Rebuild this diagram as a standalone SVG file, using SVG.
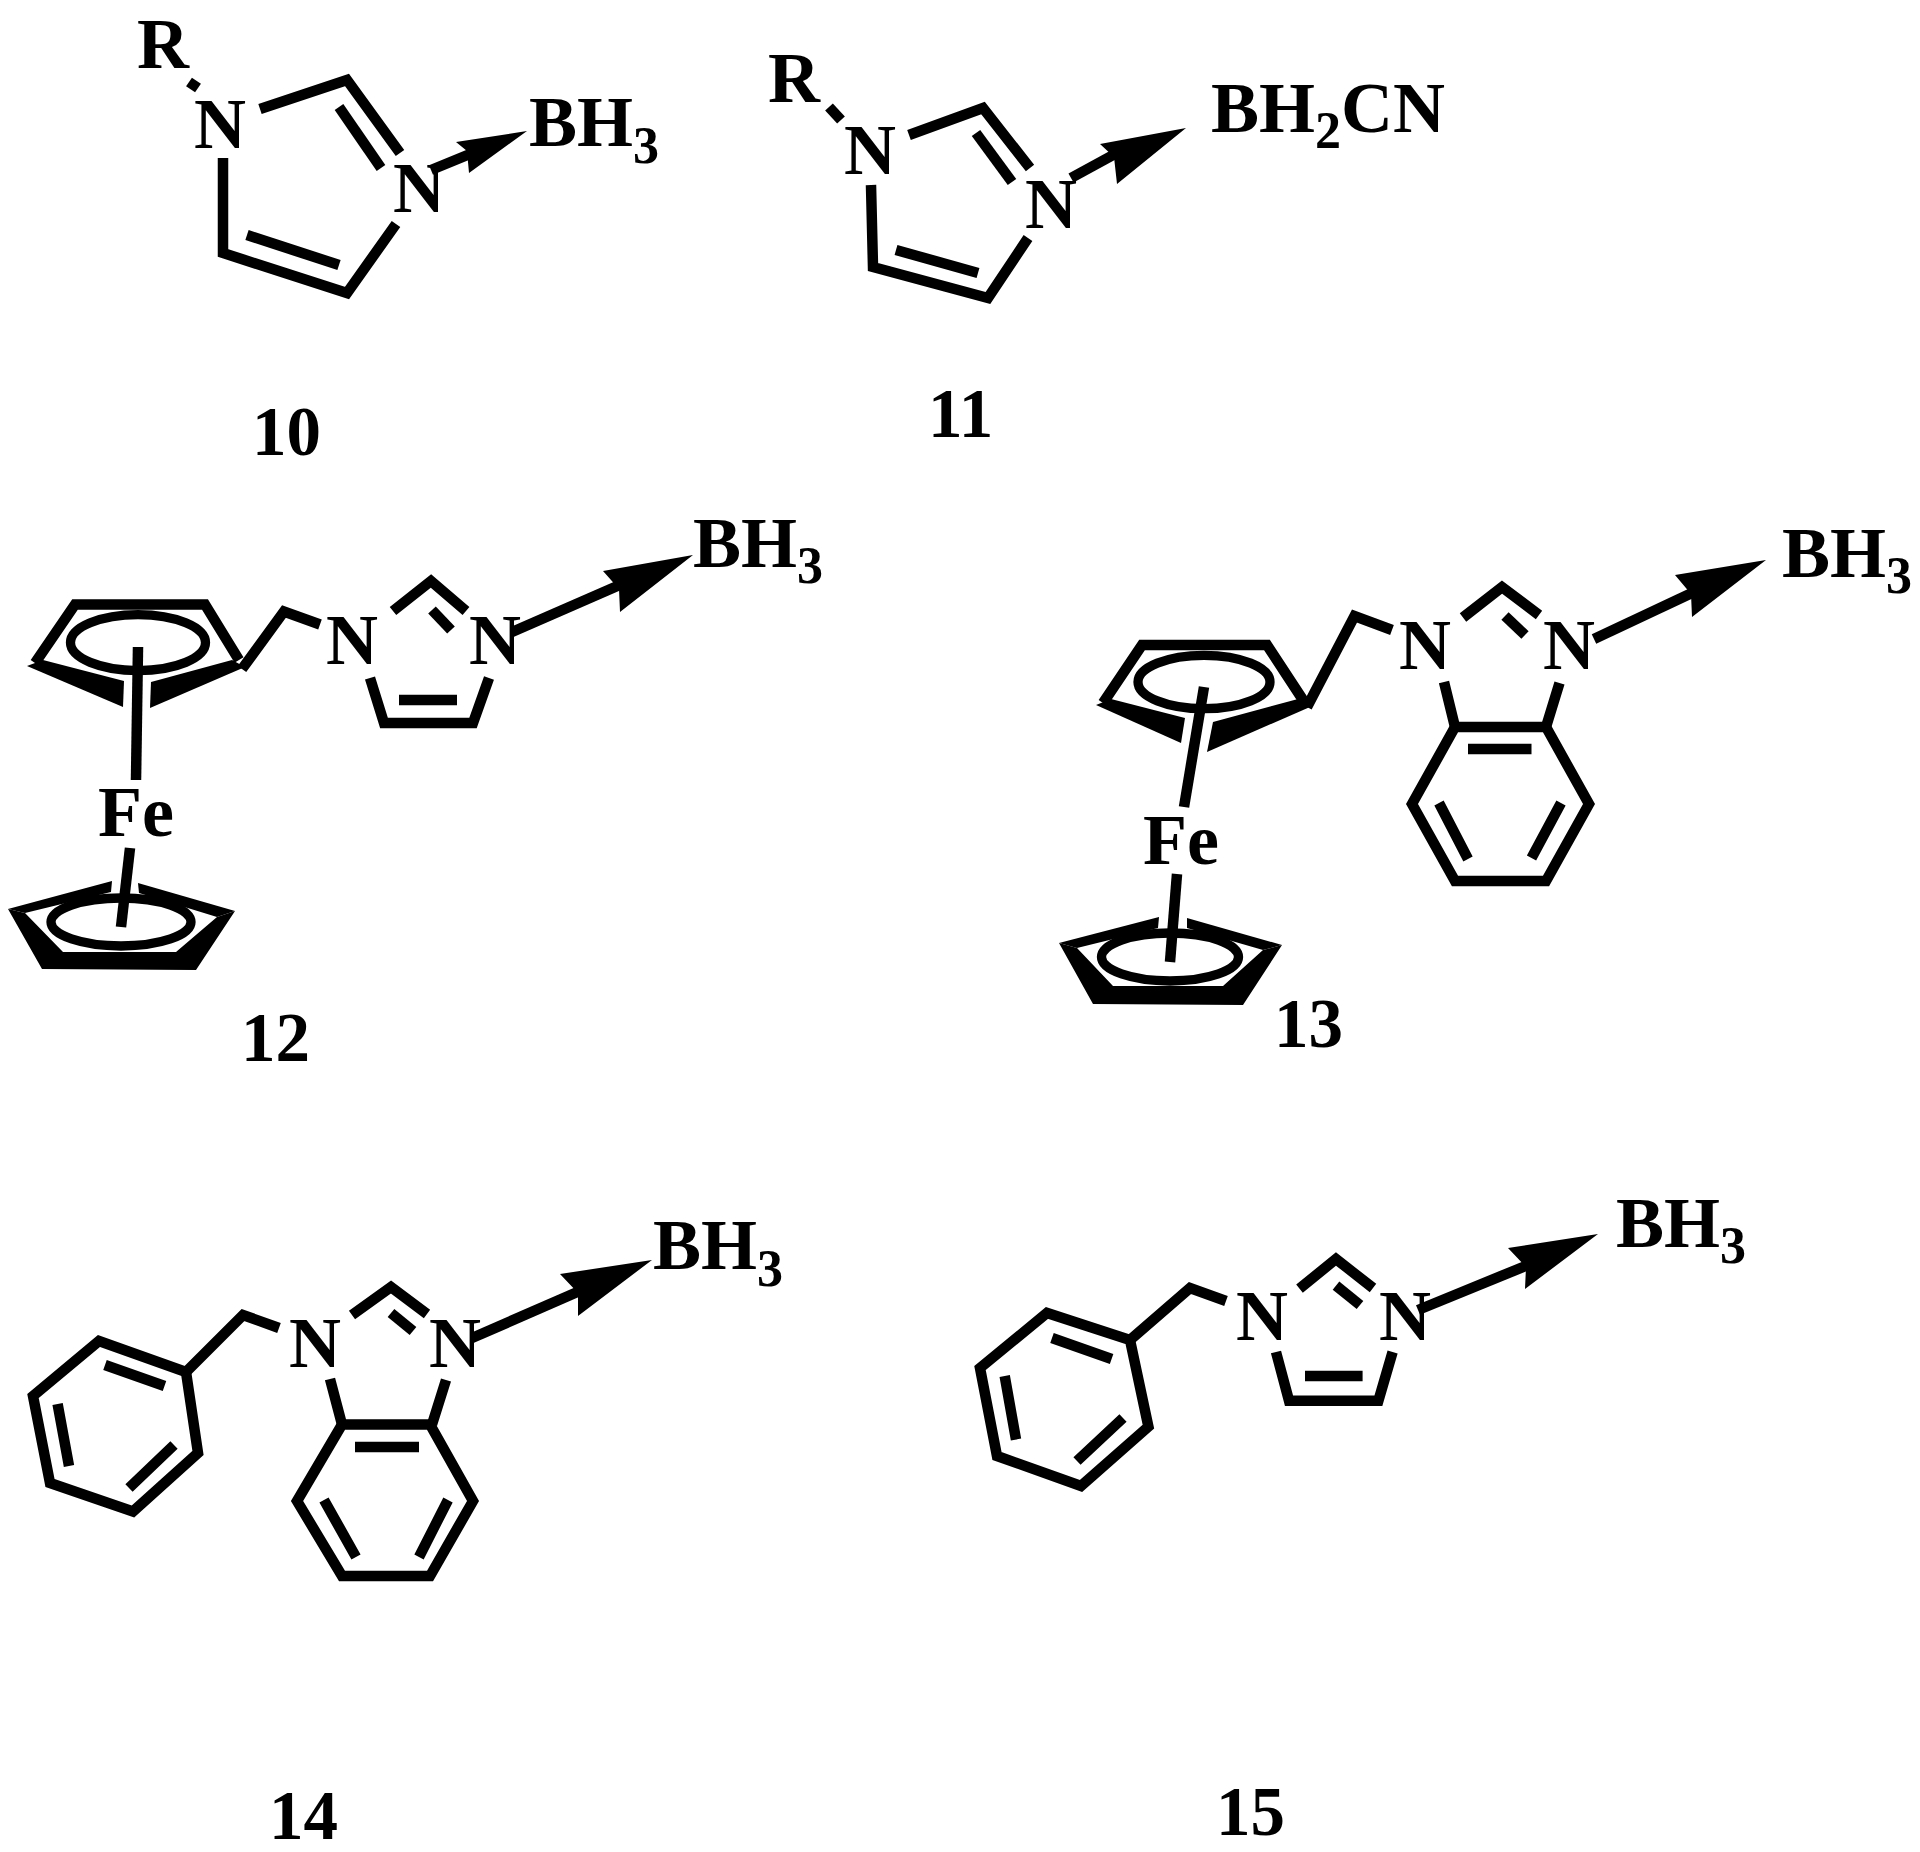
<svg xmlns="http://www.w3.org/2000/svg" width="1920" height="1852" viewBox="0 0 1920 1852">
<style>
text{font-family:"Liberation Serif","Times New Roman",serif;font-weight:700;font-size:72px;fill:#000}
.sub{font-size:52px}
.id{font-size:69px}
.b{fill:none;stroke:#000;stroke-width:10.5;stroke-linejoin:miter;stroke-linecap:butt}
.s{fill:none;stroke:#000;stroke-width:10.5}
.f{fill:#000;stroke:none}
.e{fill:none;stroke:#000;stroke-width:9.3}
</style>
<rect width="1920" height="1852" fill="#fff"/>
<g id="connectors">
<g id="bonds-10">
<path class="b" d="M189 82L198 88"/>
<path class="b" d="M260 109L347 80L400 153"/>
<path class="b" d="M339 107L381 168"/>
<path class="b" d="M396 224L347 293L223 253V158"/>
<path class="b" d="M247 235L339 265"/>
<path class="s" d="M431 170L470 154"/><polygon class="f" points="527,131 456,142 467,151 469,173"/>
</g>
<g id="bonds-11">
<path class="b" d="M829 107L841 120"/>
<path class="b" d="M909 135L983 108L1030 168"/>
<path class="b" d="M976 133L1012 182"/>
<path class="b" d="M1028 238L988 298L873 267L871 185"/>
<path class="b" d="M896 250L978 273"/>
<path class="s" d="M1071 178L1115 154"/><polygon class="f" points="1186,128 1100,144 1114,157 1117,184"/>
</g>
<g id="bonds-12">
<path class="b" d="M242 669L284 611.5L320 624.5"/>
<path class="b" d="M393 611L431 581L466 611"/>
<path class="b" d="M432 610L451 630"/>
<path class="b" d="M370 678L384 723H473L489 678"/>
<path class="b" d="M399 700H457"/>
<path class="b" d="M138 647L136 780"/>
<path class="b" d="M130 848L121 927"/>
<path class="s" d="M512 632L622 584"/><polygon class="f" points="693,555 603,571 619,589 620,612"/>
</g>
<g id="bonds-13">
<path class="b" d="M1307 707L1354.5 616L1392 630"/>
<path class="b" d="M1463 617.5L1502 587L1539 615"/>
<path class="b" d="M1505 616L1525 635"/>
<path class="b" d="M1444 682L1455 727M1559.5 683L1546 727"/>
<path class="b" d="M1455 727H1546L1589 804L1546 881H1455L1412 804Z"/>
<path class="b" d="M1468 749H1531.5M1439 803L1468 859M1561 803L1531.5 858"/>
<path class="b" d="M1204 687L1184 807"/>
<path class="b" d="M1177 874L1170 962"/>
<path class="s" d="M1594 639L1694 592"/><polygon class="f" points="1766,560 1675,575 1691,594 1692,617"/>
</g>
<g id="bonds-14">
<path class="b" d="M186 1372L243 1315L279 1328"/>
<path class="b" d="M352 1315L391 1287L427 1314"/>
<path class="b" d="M391 1313L413 1331"/>
<path class="b" d="M330 1379L342 1424.5M446 1380L432 1424.5"/>
<path class="b" d="M342 1424.5H430L473 1501L430 1576H342L297 1501Z"/>
<path class="b" d="M355 1447H419M324 1500L356 1557M448 1500L419 1557"/>
<path class="b" d="M186 1372L99 1341L33 1396L50 1483L133 1511.5L198 1453Z"/>
<path class="b" d="M105 1365L164.5 1386M57.6 1404L69 1466M174 1445L129 1488"/>
<path class="s" d="M472 1338L582 1290"/><polygon class="f" points="652,1260 560,1274 578,1293 578,1316"/>
</g>
<g id="bonds-15">
<path class="b" d="M1130 1340L1190 1288L1226 1301"/>
<path class="b" d="M1299.5 1288.6L1336 1259L1373 1288"/>
<path class="b" d="M1336 1285.6L1360 1305"/>
<path class="b" d="M1276 1352L1289 1400.7H1378.4L1392.6 1352"/>
<path class="b" d="M1305 1376H1362.6"/>
<path class="b" d="M1130 1340L1047 1313L980 1368L997 1456L1081 1486L1148.4 1426.6Z"/>
<path class="b" d="M1052 1338L1111.6 1359M1004.7 1376L1016 1439.5M1123 1418L1077 1461"/>
<path class="s" d="M1418 1310L1528 1265"/><polygon class="f" points="1598,1234 1508,1248 1526,1267 1525,1289"/>
</g>
</g>
<g id="compound-10">
<text x="137" y="68">R</text>
<text x="194" y="148">N</text>
<text x="393" y="212">N</text>
<text x="529" y="146">BH<tspan class="sub" dy="17">3</tspan></text>
<text class="id" x="252" y="455">10</text>
</g>
<g id="compound-11">
<text x="768" y="102">R</text>
<text x="844" y="174">N</text>
<text x="1025" y="228">N</text>
<text x="1211" y="132">BH<tspan class="sub" dy="16">2</tspan><tspan dy="-16">CN</tspan></text>
<text class="id" x="928" y="437">11</text>
</g>
<g id="compound-12">
<path class="f" d="M27 666L43 660L124 681L123 707Z"/>
<path class="f" d="M245 667L232 660L151 682L150 708Z"/>
<path class="b" d="M35 663L75 604.5H205L239 660"/>
<ellipse class="e" cx="138" cy="642.6" rx="67.5" ry="28"/>
<path class="f" d="M8 909L42 969L196 970L235 911L217 917L176 952H63L25 913Z"/>
<path class="f" d="M8 909L112 881L111 892L25 913Z"/>
<path class="f" d="M235 911L138 883L139 893L217 917Z"/>
<ellipse class="e" cx="121" cy="922" rx="70" ry="24"/>
<text x="326" y="664">N</text>
<text x="469" y="664">N</text>
<text x="693" y="567">BH<tspan class="sub" dy="16">3</tspan></text>
<text x="98" y="836">Fe</text>
<text class="id" x="241" y="1061">12</text>
</g>
<g id="compound-13">
<path class="f" d="M1096 705L1111 699L1185 718L1181 743Z"/>
<path class="f" d="M1310 707L1298 699L1213 722L1207 752Z"/>
<path class="b" d="M1103 703L1142 645H1267L1305 703"/>
<ellipse class="e" cx="1204" cy="682" rx="66" ry="26.7"/>
<path class="f" d="M1059 943L1093 1004L1243 1005L1282 945L1263 950L1223 986H1113L1077 948Z"/>
<path class="f" d="M1059 943L1159 917L1158 928L1077 948Z"/>
<path class="f" d="M1282 945L1187 918V928L1263 950Z"/>
<ellipse class="e" cx="1170" cy="957" rx="68.5" ry="24"/>
<text x="1399" y="669">N</text>
<text x="1543" y="669">N</text>
<text x="1782" y="577">BH<tspan class="sub" dy="16">3</tspan></text>
<text x="1143" y="864">Fe</text>
<text class="id" x="1274" y="1047">13</text>
</g>
<g id="compound-14">
<text x="289" y="1367">N</text>
<text x="429" y="1367">N</text>
<text x="653" y="1269">BH<tspan class="sub" dy="17">3</tspan></text>
<text class="id" x="269" y="1839">14</text>
</g>
<g id="compound-15">
<text x="1236" y="1340">N</text>
<text x="1379" y="1340">N</text>
<text x="1616" y="1247">BH<tspan class="sub" dy="16">3</tspan></text>
<text class="id" x="1216" y="1835">15</text>
</g>
</svg>
